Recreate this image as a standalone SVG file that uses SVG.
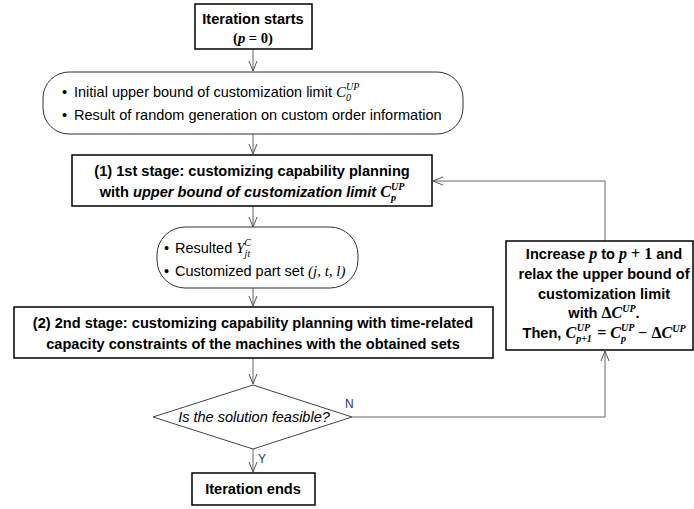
<svg xmlns="http://www.w3.org/2000/svg" width="694" height="509" viewBox="0 0 694 509">
<defs>
<marker id="arr" viewBox="0 0 10 10" refX="10" refY="5" markerWidth="10" markerHeight="10" markerUnits="userSpaceOnUse" orient="auto">
<path d="M0,1 L10,5 L0,9" fill="none" stroke="#555" stroke-width="1"/>
</marker>
<style>
.box{fill:#fff;stroke:#000;stroke-width:1.5}
.rbox{fill:#fff;stroke:#333;stroke-width:1}
.b{font-family:"Liberation Sans",Arial,sans-serif;font-weight:bold;font-size:14.6px;fill:#000}
.n{font-family:"Liberation Sans",Arial,sans-serif;font-size:14.5px;fill:#000}
.m{font-family:"Liberation Serif","DejaVu Serif",serif;font-style:italic}
.mb{font-family:"Liberation Serif","DejaVu Serif",serif;font-style:italic;font-weight:bold}
.mu{font-family:"Liberation Serif","DejaVu Serif",serif;font-weight:bold}
.s{font-size:10px}
.lbl{font-family:"Liberation Sans",Arial,sans-serif;font-size:12px;fill:#1f3864}
.c{fill:none;stroke:#666;stroke-width:1}
</style>
</defs>
<g id="connectors">
<path class="c" d="M253,49 V71" marker-end="url(#arr)"/>
<path class="c" d="M253,134 V154" marker-end="url(#arr)"/>
<path class="c" d="M253,206 V227" marker-end="url(#arr)"/>
<path class="c" d="M253,288 V306" marker-end="url(#arr)"/>
<path class="c" d="M253,358 V384" marker-end="url(#arr)"/>
<path class="c" d="M253,449 V472" marker-end="url(#arr)"/>
<path class="c" d="M352,417 H605 V351" marker-end="url(#arr)"/>
<path class="c" d="M605,241 V181 H433" marker-end="url(#arr)"/>
<text class="lbl" x="345" y="408">N</text>
<text class="lbl" x="258" y="463">Y</text>
</g>
<g id="start">
<rect class="box" x="195" y="4" width="117" height="45"/>
<text class="b" x="253" y="24" text-anchor="middle" font-size="15">Iteration starts</text>
<text class="b" x="253" y="43" text-anchor="middle" font-size="16"><tspan class="mu">(</tspan><tspan class="mb">p</tspan><tspan class="mu"> = 0)</tspan></text>
</g>
<g id="init">
<rect class="rbox" x="43" y="72" width="420" height="62" rx="26"/>
<text class="n" x="62" y="97">•</text>
<text class="n" x="74" y="97">Initial upper bound of customization limit <tspan class="m" font-size="15">C</tspan><tspan class="m s" dy="4">0</tspan><tspan class="m s" dx="-5" dy="-11">UP</tspan></text>
<text class="n" x="62" y="120">•</text>
<text class="n" x="74" y="120">Result of random generation on custom order information</text>
</g>
<g id="stage1">
<rect class="box" x="72" y="155" width="360" height="51"/>
<text class="b" x="252" y="176" text-anchor="middle">(1) 1st stage: customizing capability planning</text>
<text class="b" x="252" y="197" text-anchor="middle">with <tspan font-style="italic">upper bound of customization limit </tspan><tspan class="mb" font-size="16">C</tspan><tspan class="mb s" dy="4">p</tspan><tspan class="mb s" dx="-5" dy="-11">UP</tspan></text>
</g>
<g id="result">
<rect class="rbox" x="157" y="227" width="201" height="61" rx="28"/>
<text class="n" x="164" y="253">•</text>
<text class="n" x="175" y="253">Resulted <tspan class="m" font-size="15">Y</tspan><tspan class="m s" dy="4">jt</tspan><tspan class="m s" dx="-6" dy="-11">C</tspan></text>
<text class="n" x="164" y="276">•</text>
<text class="n" x="175" y="276">Customized part set <tspan class="m" font-size="15">(j, t, l)</tspan></text>
</g>
<g id="stage2">
<rect class="box" x="14" y="307" width="479" height="51"/>
<text class="b" x="253" y="328" text-anchor="middle">(2) 2nd stage: customizing capability planning with time-related</text>
<text class="b" x="253" y="349" text-anchor="middle">capacity constraints of the machines with the obtained sets</text>
</g>
<g id="decision">
<polygon fill="#fff" stroke="#444" stroke-width="1" points="253,385 352,417 253,449 153,417"/>
<text class="n" x="254" y="422" text-anchor="middle" font-style="italic" font-size="16">Is the solution feasible?</text>
</g>
<g id="relax">
<rect class="box" x="506" y="241" width="187" height="109"/>
<text class="b" x="604" y="259" text-anchor="middle">Increase <tspan class="mb" font-size="16">p</tspan> to <tspan class="mb" font-size="16">p</tspan><tspan class="mu" font-size="16"> + 1</tspan> and</text>
<text class="b" x="604" y="279" text-anchor="middle">relax the upper bound of</text>
<text class="b" x="604" y="299" text-anchor="middle">customization limit</text>
<text class="b" x="604" y="318" text-anchor="middle">with <tspan class="mu" font-size="16">Δ</tspan><tspan class="mb" font-size="16">C</tspan><tspan class="mb s" dy="-6">UP</tspan><tspan dy="6">.</tspan></text>
<text class="b" x="604" y="338" text-anchor="middle">Then, <tspan class="mb" font-size="16">C</tspan><tspan class="mb s" dy="4">p+1</tspan><tspan class="mb s" dx="-15" dy="-11">UP</tspan><tspan class="mu" font-size="16" dx="3" dy="7"> = </tspan><tspan class="mb" font-size="16">C</tspan><tspan class="mb s" dy="4">p</tspan><tspan class="mb s" dx="-5" dy="-11">UP</tspan><tspan class="mu" font-size="16" dy="7"> − Δ</tspan><tspan class="mb" font-size="16">C</tspan><tspan class="mb s" dy="-6">UP</tspan></text>
</g>
<g id="end">
<rect class="box" x="192" y="473" width="123" height="32"/>
<text class="b" x="253" y="494" text-anchor="middle" font-size="15">Iteration ends</text>
</g>
</svg>
